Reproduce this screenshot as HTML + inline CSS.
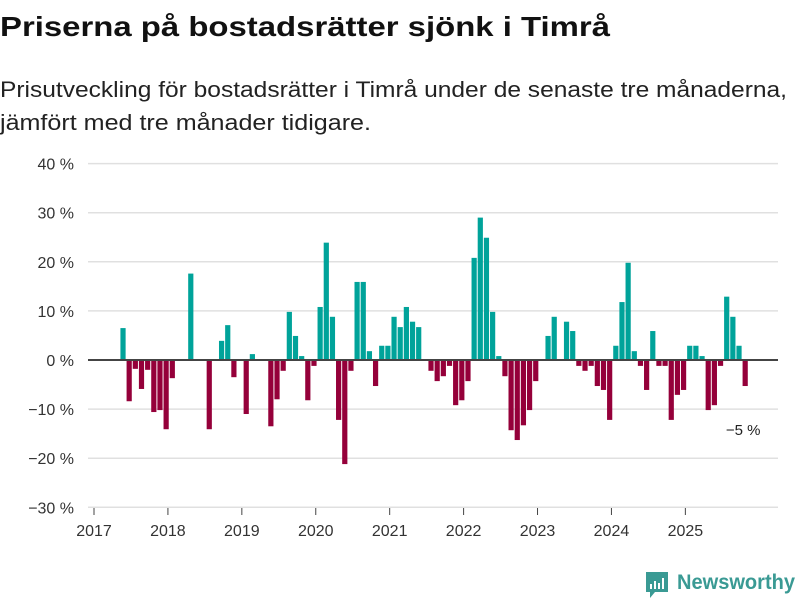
<!DOCTYPE html>
<html><head><meta charset="utf-8">
<style>
body{margin:0;background:#fff;}
svg{display:block;font-family:"Liberation Sans",sans-serif;}
</style></head>
<body>
<svg id="chart" width="800" height="600">
<text x="0" y="36" font-size="28" font-weight="bold" fill="#111" textLength="610" lengthAdjust="spacingAndGlyphs">Priserna på bostadsrätter sjönk i Timrå</text>
<text x="0" y="97" font-size="22" fill="#222" textLength="787" lengthAdjust="spacingAndGlyphs">Prisutveckling för bostadsrätter i Timrå under de senaste tre månaderna,</text>
<text x="0" y="130" font-size="22" fill="#222" textLength="371" lengthAdjust="spacingAndGlyphs">jämfört med tre månader tidigare.</text>
<g id="grid"></g><g id="bars"></g><g id="axes"></g>
<g>
<path d="M646 572 h22 v20 h-13 l-5 6 v-6 h-4 z" fill="#3a9a94"/>
<rect x="650" y="584" width="2" height="5" fill="#fff"/><rect x="654" y="581" width="2" height="8" fill="#fff"/><rect x="658" y="583" width="2" height="6" fill="#fff"/><rect x="662" y="578" width="2" height="11" fill="#fff"/>
<text x="677" y="589" font-size="21" font-weight="bold" fill="#3a9a94" textLength="118" lengthAdjust="spacingAndGlyphs">Newsworthy</text>
</g>
</svg>
<script>
const startMonth = 4; // May 2017 (months from Jan 2017)
const values = [6.5,-8.4,-1.8,-5.9,-2.0,-10.6,-10.2,-14.1,-3.7,0,0,17.6,0,0,-14.1,0,3.9,7.1,-3.5,0,-11.0,1.2,0,0,
-13.5,-8.0,-2.2,9.8,4.9,0.8,-8.2,-1.2,10.8,23.9,8.8,-12.2,-21.2,-2.2,15.9,15.9,1.8,-5.3,2.9,2.9,8.8,6.7,10.8,7.8,6.7,0,
-2.2,-4.3,-3.3,-1.2,-9.2,-8.2,-4.3,20.8,29.0,24.9,9.8,0.8,-3.3,-14.3,-16.3,-13.3,-10.2,-4.3,0,4.9,8.8,0,7.8,5.9,
-1.2,-2.2,-1.2,-5.3,-6.1,-12.2,2.9,11.8,19.8,1.8,-1.2,-6.1,5.9,-1.2,-1.2,-12.2,-7.1,-6.1,2.9,2.9,0.8,-10.2,-9.2,-1.2,12.9,8.8,2.9,-5.3];
const yTicks = [-30,-20,-10,0,10,20,30,40];
const xTickYears = [2017,2018,2019,2020,2021,2022,2023,2024,2025];
const NS="http://www.w3.org/2000/svg";
const y = v => 360 - v*4.91;
const x = m => 94 + m*6.16; // m = months since Jan 2017
function mk(tag, attrs, parent){const e=document.createElementNS(NS,tag);for(const k in attrs)e.setAttribute(k,attrs[k]);parent.appendChild(e);return e;}
const grid=document.getElementById('grid'), bars=document.getElementById('bars'), axes=document.getElementById('axes');
yTicks.forEach(t=>{
  if(t!==0){const l=mk('line',{x1:88,x2:778,y1:y(t),y2:y(t),stroke:'#e0e0e0','stroke-width':1.5},grid);
  
  }
  const tx=mk('text',{x:74,y:y(t)+6,'font-size':16,fill:'#333','text-anchor':'end'},axes);
  tx.textContent=(t<0?'\u2212'+(-t):t)+' %';
  
  
});
values.forEach((v,i)=>{
  const m=startMonth+i; const cx=x(m+0.5)+1.3;
  if(v===0) return;
  const r=mk('rect',{x:cx-2.6,width:5.2,y:Math.min(y(v),y(0)),height:Math.abs(y(v)-y(0)),fill:v>0?'#00a39a':'#95003a'},bars);
  
  
});
const zl=mk('line',{x1:88,x2:778,y1:y(0),y2:y(0),stroke:'#444','stroke-width':2},axes);


xTickYears.forEach(yr=>{
  const xx=x((yr-2017)*12);
  const tk=mk('line',{x1:xx,x2:xx,y1:508,y2:515,stroke:'#444','stroke-width':1},axes);
  
  
  const tx=mk('text',{x:xx,y:536,'font-size':16,fill:'#333','text-anchor':'middle'},axes);
  tx.textContent=yr;
  
  
});
const last=values[values.length-1];
const lbl=mk('text',{x:x(startMonth+values.length-1+0.5)-18,y:y(last)+49,'font-size':15,fill:'#222'},axes);
lbl.textContent='\u2212'+Math.round(-last)+' %';


</script>
</body></html>
